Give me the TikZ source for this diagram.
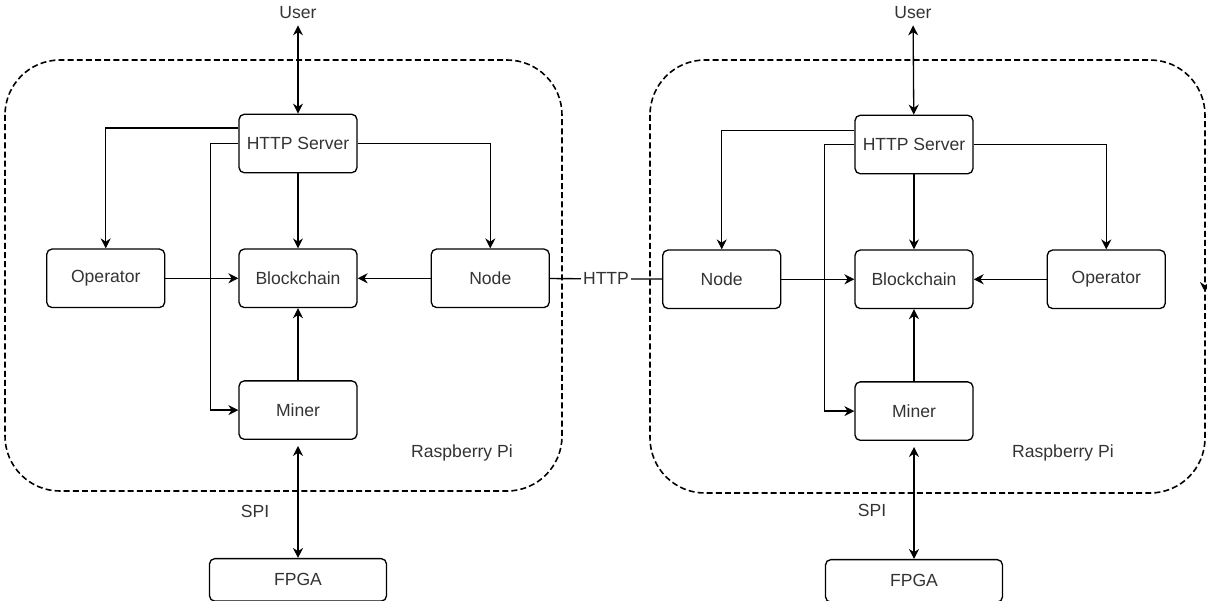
\documentclass[tikz,border=0pt]{standalone}
\usepackage{fontspec}
\setmainfont{Liberation Sans}
\usetikzlibrary{arrows.meta,positioning}

\begin{document}
\begin{tikzpicture}[
    x=0.02cm, y=-0.02cm,
    blk/.style={draw, rounded corners=3pt, minimum width=2.36cm,
                minimum height=1.17cm, line width=0.75pt, text=black!80,
                font=\fontsize{10}{12}\selectfont},
    fpga/.style={blk, minimum width=3.54cm, minimum height=0.85cm},
    lbl/.style={text=black!80, font=\fontsize{10}{12}\selectfont},
    rpi/.style={draw, dash pattern=on 3.4pt off 1.8pt, line width=0.9pt,
                rounded corners=1.1cm},
    arrow/.style={-{Stealth[length=2mm,width=2mm]}, line width=0.75pt},
    both/.style={{Stealth[length=2mm,width=2mm]}-{Stealth[length=2mm,width=2mm]},
                 line width=0.75pt}
]
\useasboundingbox (0,0) rectangle (1207,600);
% two boards
\draw[rpi] (5,60) rectangle (562,491);
\draw[rpi] (650,60) rectangle (1205,493);

% left board
\node[blk] (http1) at (298,143.5) {HTTP Server};
\node[blk, below=1.5cm of http1]  (chain1) {Blockchain};
\node[blk, left=1.46cm of chain1]  (op1)   {Operator};
\node[blk, right=1.46cm of chain1] (node1) {Node};
\node[blk, below=1.44cm of chain1] (miner1) {Miner};
\node[fpga, below=2.36cm of miner1] (fpga1) {FPGA};
\node[lbl] (user1) at (298,13)  {User};
\node[lbl] (spi1)  at (255,511) {SPI};
\node[lbl] (pi1)   at (462,453) {Raspberry Pi};

% right board
\node[blk] (http2) at (914,144.5) {HTTP Server};
\node[blk, below=1.5cm of http2]  (chain2) {Blockchain};
\node[blk, left=1.46cm of chain2]  (node2) {Node};
\node[blk, right=1.46cm of chain2] (op2)   {Operator};
\node[blk, below=1.44cm of chain2] (miner2) {Miner};
\node[fpga, below=2.36cm of miner2] (fpga2) {FPGA};
\node[lbl] (user2) at (913,13)   {User};
\node[lbl] (spi2)  at (872,510)  {SPI};
\node[lbl] (pi2)   at (1063,453) {Raspberry Pi};
\coordinate (tip2) at (1205,292);

% left connectors
\draw[both] (user1) -- (http1);
\draw[arrow] (http1) -- (chain1);
\draw[arrow] ([yshift=0.31cm]http1.west) -| (op1);
\draw[arrow] (http1) -| (node1);
\draw[arrow] (http1.west) -- ++(-28,0) |- (miner1);
\draw[arrow] (op1) -- (chain1); \draw[arrow] (node1) -- (chain1);
\draw[arrow] (miner1) -- (chain1);
\draw[both, shorten <=0.12cm] (miner1) -- (fpga1);

% link between the boards
\draw[line width=0.75pt] (node1) -- node[lbl, fill=white, inner sep=1pt] (link) {HTTP} (node2);

% right connectors
\draw[both] (user2) -- (http2);
\draw[arrow] (http2) -- (chain2);
\draw[arrow] ([yshift=0.28cm]http2.west) -| (node2);
\draw[arrow] (http2) -| (op2);
\draw[arrow] (http2.west) -- ++(-30,0) |- (miner2);
\draw[arrow] (node2) -- (chain2); \draw[arrow] (op2) -- (chain2);
\draw[arrow] (miner2) -- (chain2);
\draw[both, shorten <=0.12cm] (miner2) -- (fpga2);
\draw[arrow] ([yshift=0.02cm]tip2) -- (tip2);
\end{tikzpicture}
\end{document}
